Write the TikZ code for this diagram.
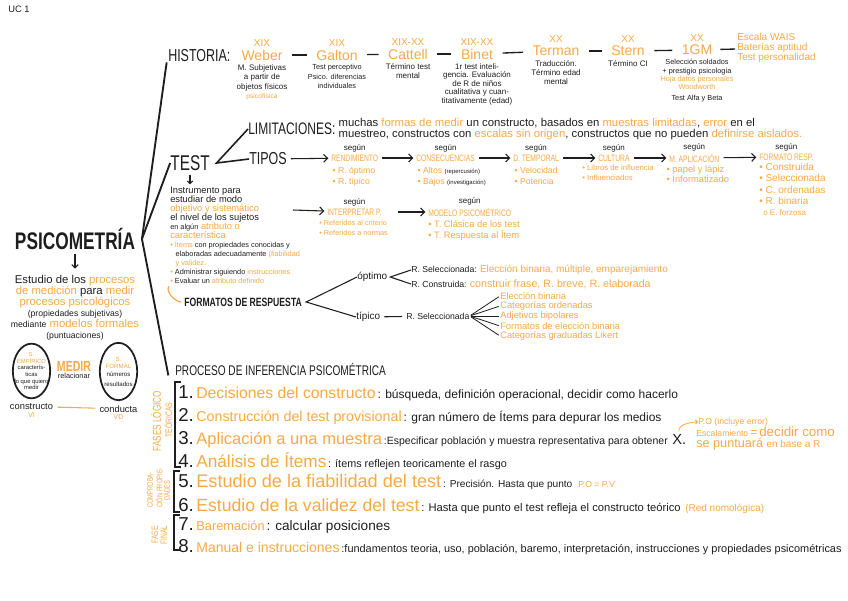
\documentclass[tikz,border=0pt]{standalone}
\usepackage{fontspec}
\setmainfont{Liberation Sans}
\newfontfamily\headfont[FakeStretch=0.72]{Liberation Sans}
\usetikzlibrary{positioning,calc,arrows.meta,shapes.geometric}
\definecolor{Ink}{HTML}{1E1E1E}
\definecolor{Peach}{HTML}{F8A945}
\newcommand{\fsz}[2]{\fontsize{#1}{#2}\selectfont}
\newcommand{\og}[1]{\textcolor{Peach}{#1}}

\begin{document}
\begin{tikzpicture}[x=0.75pt,y=-0.75pt,
    every node/.style={inner sep=0pt,text=Ink},
    link/.style={draw=Ink,line width=0.8pt},
    trunk/.style={draw=Ink,line width=1.4pt},
    nextarrow/.style={link,-{Straight Barb[length=3pt,width=6pt]},shorten <=3pt,shorten >=2pt},
    dashlink/.style={link,line width=1pt,shorten <=7pt,shorten >=7pt},
    head/.style={font=\headfont\fsz{13}{15}},
    century/.style={font=\fsz{7.5}{8},text=Peach},
    who/.style={font=\fsz{10.5}{12},text=Peach},
    note/.style={font=\fsz{6}{7},align=center},
    segun/.style={font=\fsz{6}{7}},
    kind/.style={font=\headfont\fsz{7}{8},text=Peach},
    items/.style={font=\fsz{6.5}{8.25},text=Peach,align=left},
    ring/.style={draw=Ink,ellipse,line width=1.3pt,minimum width=28pt,minimum height=41pt},
    side/.style={font=\headfont\fsz{7}{8},text=Peach,rotate=90},
    stepnum/.style={font=\fsz{14}{14},anchor=base west},
    steptitle/.style={text=Peach},
    bracket/.style={draw=Ink,line width=1pt}]
  \fill[white] (0,0) rectangle (848,600);
  \useasboundingbox (0,0) rectangle (848,600);
  \node[font=\fsz{7}{8},anchor=west] (uc) at (8,9) {UC 1};

  % psicometria
  \node[font=\headfont\bfseries\fsz{18}{18}] (psico) at (75,239) {PSICOMETRÍA};
  \node[font=\fsz{8.5}{8.25},align=center,below=19pt of psico] (blurb) {Estudio de los \og{procesos}\\
    \og{de medición} para \og{medir}\\
    \og{procesos psicológicos}\\
    {\fsz{6.5}{7}(propiedades subjetivas)}\\
    {\fsz{6.5}{7}mediante} \og{modelos formales}\\
    {\fsz{6.5}{7}(puntuaciones)}};
  \draw[link,-{Straight Barb[length=2.5pt,width=5pt]},shorten <=3pt,shorten >=5pt] (psico.south) -- (blurb.north);
  \node[ring] (empirico) at (31.5,371) {};
  \node[ring,minimum height=43pt] (formal) at (118.5,371.5) {};
  \node[font=\fsz{4.4}{5},align=center] (empiricotext) at (empirico) {\og{S.}\\\og{EMPÍRICO}\\caracterís-\\ticas\\lo que quiero\\medir};
  \node[font=\fsz{4.6}{5.25},align=center] (formaltext) at (formal) {\og{S.}\\\og{FORMAL}\\[1pt]números\\[2pt]resultados};
  \node[font=\headfont\bfseries\fsz{11}{11},text=Peach] (medir) at (74,366) {MEDIR};
  \node[font=\fsz{5.5}{6},below=1.5pt of medir] (relacionar) {relacionar};
  \node[font=\fsz{7}{7},below=3pt of empirico] (constructo) {constructo};
  \node[font=\fsz{7}{7},below=3pt of formal] (conducta) {conducta};
  \node[font=\fsz{5.5}{6},text=Peach,below=1.5pt of constructo] (vi) {VI};
  \node[font=\fsz{5.5}{6},text=Peach,below=1.5pt of conducta] (vd) {VD};
  \draw[Peach,line width=0.8pt,shorten <=3pt,shorten >=3pt] (constructo) -- (conducta);

  % historia
  \node[head,anchor=west] (historia) at (168,56) {HISTORIA:};
  \node[who] (weber) at (262,55) {Weber};
  \node[who] (galton) at (337,55) {Galton};
  \node[who] (cattell) at (408,54) {Cattell};
  \node[who] (binet) at (477,54) {Binet};
  \node[who] (terman) at (556,51) {Terman};
  \node[who] (stern) at (628,51) {Stern};
  \node[who] (gm) at (697,50) {1GM};
  \foreach \p/\c in {weber/XIX,galton/XIX,cattell/XIX-XX,binet/XIX-XX,terman/XX,stern/XX,gm/XX}
    \node[century,above=2pt of \p] (c\p) {\c};
  \node[note,below=3pt of weber] (weberdesc) {M. Subjetivas\\a partir de\\objetos físicos\\\og{\fsz{5}{6}psicofísica}};
  \node[note,font=\fsz{5.5}{7},below=3pt of galton] (galtondesc) {Test perceptivo\\Psico. diferencias\\individuales};
  \node[note,below=3pt of cattell] (cattelldesc) {Término test\\mental};
  \node[note,font=\fsz{6}{6.3},below=3pt of binet] (binetdesc) {1r test inteli-\\gencia. Evaluación\\de R de niños\\cualitativa y cuan-\\titativamente (edad)};
  \node[note,below=3pt of terman] (termandesc) {Traducción.\\Término edad\\mental};
  \node[note,below=3pt of stern] (sterndesc) {Término CI};
  \node[note,font=\fsz{5.5}{6.2},below=3pt of gm] (gmdesc) {Selección soldados\\+ prestigio psicología\\\og{Hoja datos personales}\\\og{Woodworth}\\[2pt]Test Alfa y Beta};
  \node[font=\fsz{7.5}{7.5},text=Peach,align=left,anchor=west] (escala) at (737,48) {Escala WAIS\\Baterías aptitud\\Test personalidad};
  \foreach \a/\b in {weber/galton,galton/cattell,cattell/binet,binet/terman,terman/stern,stern/gm}
    \draw[dashlink] (\a) -- (\b);
  \draw[dashlink,shorten <=6pt,shorten >=1.5pt] (gm) -- (escala);

  % test
  \node[font=\headfont\fsz{16}{16}] (test) at (190,163) {TEST};
  \node[head,font=\headfont\fsz{12.5}{14},anchor=west] (limit) at (248,129) {LIMITACIONES:};
  \node[head,anchor=west] (tipos) at (249,159) {TIPOS};
  \coordinate[right=5pt of test.east] (fork);
  \draw[trunk,line width=1.2pt] (limit.west) -- (fork) -- (tipos.west);
  \node[font=\fsz{8.5}{8.25},align=left,right=2pt of limit] (limtext) {muchas \og{formas de medir} un constructo, basados en \og{muestras limitadas}, \og{error} en el\\
    muestreo, constructos con \og{escalas sin origen}, constructos que no pueden \og{definirse aislados.}};
  \node[font=\fsz{7}{6.75},align=left,anchor=north west] (instr) at (170,187) {Instrumento para\\
    estudiar de modo\\
    \og{objetivo y sistemático}\\
    el nivel de los sujetos\\
    {\fsz{5.5}{6}en algún} \og{atributo o}\\
    \og{característica}};
  \draw[link,-{Straight Barb[length=2pt,width=4pt]},shorten <=3pt,shorten >=2pt] (test.south) -- (test.south |- instr.north);
  \node[font=\fsz{5.5}{6.75},align=left,below right=1.5pt and 0pt of instr.south west] (reqs) {\og{•} \og{Ítems} con propiedades conocidas y\\
    \hspace*{4pt}elaboradas adecuadamente \og{(fiabilidad}\\
    \hspace*{4pt}\og{y validez.}\\
    \og{•} Administrar siguiendo \og{instrucciones}\\
    \og{•} Evaluar un \og{atributo definido}};

  % tipos
  \node[kind,anchor=west] (rend) at (331,158) {RENDIMIENTO};
  \node[kind,anchor=west] (conse) at (416,158) {CONSECUENCIAS};
  \node[kind,anchor=west] (tempo) at (513,158) {D. TEMPORAL};
  \node[kind,anchor=west] (cult) at (598,158) {CULTURA};
  \node[kind,anchor=west] (aplic) at (669,158) {M. APLICACIÓN};
  \node[kind,anchor=west] (fresp) at (759,157) {FORMATO RESP.};
  \coordinate (wrap) at (293,210);
  \node[kind,anchor=west] (interp) at (327,212) {INTERPRETAR P.};
  \node[kind,anchor=west] (modelo) at (428,212) {MODELO PSICOMÉTRICO};
  \foreach \k in {rend,conse,tempo,cult,aplic,fresp,interp,modelo}
    \node[segun,above=1.5pt of \k] (seg\k) {según};
  \foreach \a/\b in {tipos/rend,rend/conse,conse/tempo,tempo/cult,cult/aplic,aplic/fresp}
    \draw[nextarrow] (\a) -- (\b);
  \draw[nextarrow,shorten <=0pt] (wrap) -- (interp);
  \draw[nextarrow,shorten <=12pt] (interp) -- (modelo);
  \node[items,below right=4pt and 1pt of rend.south west] (rendlist) {• R. óptimo\\• R. típico};
  \node[items,below right=4pt and 1pt of conse.south west] (conselist) {• Altos {\color{Ink}\fsz{4.5}{5}(repercusión)}\\• Bajos {\color{Ink}\fsz{4.5}{5}(investigación)}};
  \node[items,below right=4pt and 1pt of tempo.south west] (tempolist) {• Velocidad\\• Potencia};
  \node[items,font=\fsz{5.8}{7.5},below right=2.5pt and -12pt of cult.south west] (cultlist) {• Libros de influencia\\• Influenciados};
  \node[items,font=\fsz{7}{8},below right=2pt and -2pt of aplic.south west] (apliclist) {• papel y lápiz\\• Informatizado};
  \node[items,font=\fsz{7.5}{8.4},below right=2pt and 0pt of fresp.south west] (fresplist) {• Construida\\• Seleccionada\\• C. ordenadas\\• R. binaria\\\hspace*{3pt}{\fsz{6}{7}o E. forzosa}};
  \node[items,font=\fsz{5.5}{7.5},below right=3pt and -6pt of interp.south west] (interplist) {• Referidos al criterio\\• Referidos a normas};
  \node[items,font=\fsz{7}{8},below right=3pt and 0pt of modelo.south west] (modelolist) {• T. Clásica de los test\\• T. Respuesta al Ítem};

  % formatos de respuesta
  \node[font=\headfont\bfseries\fsz{9}{10},anchor=west] (formatos) at (184,302) {FORMATOS DE RESPUESTA};
  \draw[Peach,line width=0.9pt,shorten <=2pt,shorten >=2pt] (reqs.south west) to[out=-120,in=180] (formatos.west);
  \node[font=\fsz{7.5}{8},anchor=west] (optimo) at (357,277) {óptimo};
  \node[font=\fsz{7.5}{8},anchor=west] (tipico) at (356,317) {típico};
  \coordinate[right=3pt of formatos.east] (ffork);
  \draw[link] (optimo.west) -- (ffork) -- (tipico.west);
  \node[font=\fsz{6.5}{7},anchor=west] (rsel) at (411,270) {R. Seleccionada: \og{\fsz{7.5}{8}Elección binaria, múltiple, emparejamiento}};
  \node[font=\fsz{6.5}{7},anchor=west] (rcons) at (411,284) {R. Construida: \og{\fsz{8}{8}construir frase, R. breve, R. elaborada}};
  \coordinate[right=2pt of optimo.east] (ofork);
  \draw[link] (rsel.west) -- (ofork) -- (rcons.west);
  \node[font=\fsz{6.5}{7},anchor=west] (rtsel) at (406,316) {R. Seleccionada};
  \draw[link,shorten <=3pt,shorten >=3pt] (tipico) -- (rtsel);
  \foreach \i/\y/\t in {1/296/Elección binaria,2/306/Categorías ordenadas,3/316/Adjetivos bipolares,4/326/Formatos de elección binaria,5/336/Categorías graduadas Likert}
    \node[font=\fsz{7}{7},text=Peach,anchor=west] (fmt\i) at (500,\y) {\t};
  \foreach \i in {1,...,5}
    \draw[link,line width=0.6pt,shorten <=1pt,shorten >=1pt] (rtsel.east) -- (fmt\i.west);

  % proceso
  \node[font=\headfont\fsz{10.5}{11},anchor=west] (proceso) at (175,369) {PROCESO DE INFERENCIA PSICOMÉTRICA};
  \coordinate[right=5pt of psico.east] (hub);
  \draw[trunk] (hub) -- ([xshift=-1pt]historia.south west);
  \draw[trunk] (hub) -- (test.west);
  \draw[trunk] (hub) -- ([xshift=-5pt]proceso.south west);

  \node[stepnum] (n1) at (178,398) {1.};
  \node[steptitle,font=\fsz{11.8}{12},base right=1.5pt of n1] (t1) {Decisiones del constructo};
  \node[font=\fsz{9}{9},base right=1pt of t1] (d1) {: búsqueda, definición operacional, decidir como hacerlo};
  \node[stepnum] (n2) at (178,421) {2.};
  \node[steptitle,font=\fsz{10.7}{12},base right=1.5pt of n2] (t2) {Construcción del test provisional};
  \node[font=\fsz{9}{9},base right=1pt of t2] (d2) {: gran número de Ítems para depurar los medios};
  \node[stepnum] (n3) at (178,444) {3.};
  \node[steptitle,font=\fsz{12.4}{12},base right=1.5pt of n3] (t3) {Aplicación a una muestra};
  \node[font=\fsz{7.9}{9},base right=1pt of t3] (d3) {:Especificar población y muestra representativa para obtener};
  \node[font=\fsz{11}{11},base right=3pt of d3] (xmark) {X.};
  \node[font=\fsz{6.5}{7},text=Peach,anchor=west] (po) at (698,422) {P.O (incluye error)};
  \draw[Peach,line width=0.6pt,-{Straight Barb[length=1.5pt,width=3pt]},shorten <=2pt] (xmark.north) to[out=100,in=180] (po.west);
  \node[text=Peach,align=left,anchor=west,font=\fsz{9}{8.25}] (escalamiento) at (696,438) {{\fsz{6.5}{7}Escalamiento}\,=\,{\fsz{10}{9}decidir como}\\
    {\fsz{9.5}{9}se puntuará} {\fsz{7.5}{8}en base a R}};
  \node[stepnum] (n4) at (178,467) {4.};
  \node[steptitle,font=\fsz{12.9}{12},base right=1.5pt of n4] (t4) {Análisis de Ítems};
  \node[font=\fsz{8.1}{9},base right=1pt of t4] (d4) {: ítems reflejen teoricamente el rasgo};
  \node[stepnum] (n5) at (178,487) {5.};
  \node[steptitle,font=\fsz{13.6}{12},base right=1.5pt of n5] (t5) {Estudio de la fiabilidad del test};
  \node[font=\fsz{7.6}{9},base right=1pt of t5] (d5) {: Precisión. Hasta que punto};
  \node[font=\fsz{6.5}{7},text=Peach,base right=4pt of d5] (pv) {P.O = P.V};
  \node[stepnum] (n6) at (178,511) {6.};
  \node[steptitle,font=\fsz{13.2}{12},base right=1.5pt of n6] (t6) {Estudio de la validez del test};
  \node[font=\fsz{8.4}{9},base right=1pt of t6] (d6) {: Hasta que punto el test refleja el constructo teórico};
  \node[font=\fsz{7.5}{8},text=Peach,base right=3pt of d6] (red) {(Red nomológica)};
  \node[stepnum] (n7) at (178,530) {7.};
  \node[steptitle,font=\fsz{9.6}{12},base right=1.5pt of n7] (t7) {Baremación};
  \node[font=\fsz{10.2}{10},base right=1pt of t7] (d7) {: calcular posiciones};
  \node[stepnum] (n8) at (178,552) {8.};
  \node[steptitle,font=\fsz{10.5}{12},base right=1.5pt of n8] (t8) {Manual e instrucciones};
  \node[font=\fsz{8.2}{9},base right=1pt of t8] (d8) {:fundamentos teoria, uso, población, baremo, interpretación, instrucciones y propiedades psicométricas};

  \draw[bracket] (181,382) -- (175,382) -- (175,467) -- (181,467);
  \draw[bracket] (180,471) -- (174,471) -- (174,512) -- (180,512);
  \draw[bracket] (180,515) -- (174,515) -- (174,550) -- (180,550);
  \node[side,font=\headfont\fsz{8.5}{9}] (fases) at (156,421) {FASES LÓGICO};
  \node[side] (teoricas) at (168,420) {TEÓRICAS};
  \node[side,font=\headfont\fsz{6}{7}] (compro) at (150,490) {COMPROBA-};
  \node[side,font=\headfont\fsz{6}{7}] (cion) at (159,488) {CIÓN PROPIE-};
  \node[side,font=\headfont\fsz{6}{7}] (dades) at (167,491) {DADES};
  \node[side] (fase) at (155,535) {FASE};
  \node[side] (final) at (164,535) {FINAL};
\end{tikzpicture}
\end{document}
